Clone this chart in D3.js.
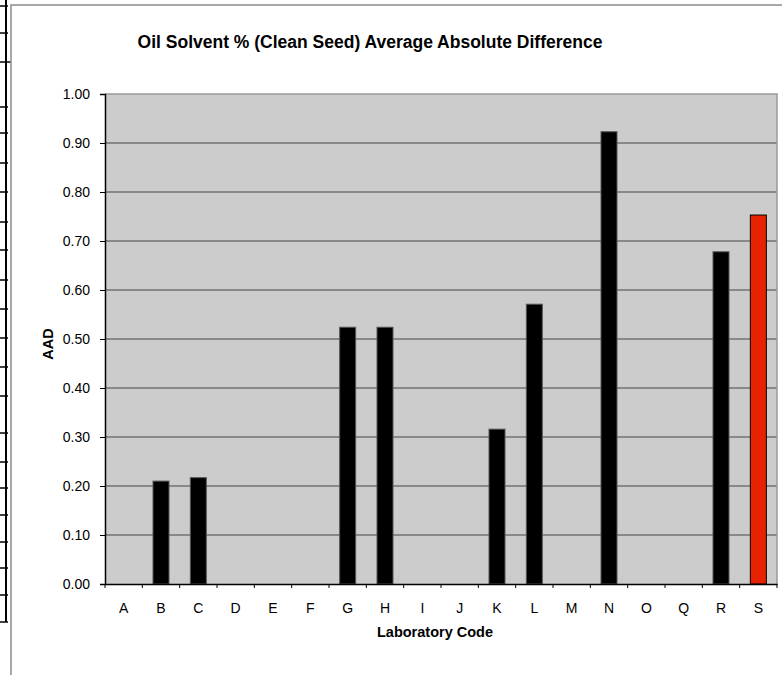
<!DOCTYPE html>
<html><head><meta charset="utf-8">
<script src="https://cdn.jsdelivr.net/npm/d3@7"></script>
<style>body{margin:0;background:#fff;} svg{display:block;font-family:"Liberation Sans",Arial,sans-serif;}</style>
</head><body>
<svg id="c" width="782" height="675"></svg>
<script>
const categories = ["A","B","C","D","E","F","G","H","I","J","K","L","M","N","O","Q","R","S"];
const values = [0, 0.210, 0.217, 0, 0, 0, 0.524, 0.524, 0, 0, 0.316, 0.571, 0, 0.923, 0, 0, 0.678, 0.753];
const highlight = ["S"];
const yTicks = [0,0.1,0.2,0.3,0.4,0.5,0.6,0.7,0.8,0.9,1.0];
const title = "Oil Solvent % (Clean Seed) Average Absolute Difference";
const xTitle = "Laboratory Code";
const yTitle = "AAD";
const sideTicks = [6,33,62,107,133,163,192,222,250,280,309,338,367,396,433,462,488,515,542,568,595,622];

const svg = d3.select("#c");
const L = 105, R = 777, T = 94, B = 584;

// decorative left table-like column
svg.append("line").attr("x1",6).attr("x2",6).attr("y1",0).attr("y2",622).attr("stroke","#000").attr("stroke-width",2);
svg.selectAll("line.st").data(sideTicks).enter().append("line").attr("class","st")
  .attr("x1",0).attr("x2",d=>d===62?11:8).attr("y1",d=>d).attr("y2",d=>d).attr("stroke","#000").attr("stroke-width",1.5);
// chart area border
svg.append("path").attr("d","M11,675 L11,5 L782,5").attr("fill","none").attr("stroke","#8c8c8c").attr("stroke-width",1.5);

const x = d3.scaleBand().domain(categories).range([L,R]);
const y = d3.scaleLinear().domain([0,1]).range([B,T]);

svg.append("rect").attr("x",L).attr("y",T).attr("width",R-L).attr("height",B-T).attr("fill","#cccccc");
// gridlines
svg.selectAll("line.g").data(yTicks.filter(d=>d>0 && d<1)).enter().append("line").attr("class","g")
  .attr("x1",L).attr("x2",R).attr("y1",d=>y(d)).attr("y2",d=>y(d)).attr("stroke","#444").attr("stroke-width",1);
// top/right border
svg.append("path").attr("d",`M${L},${T} L${R},${T} L${R},${B}`).attr("fill","none").attr("stroke","#999").attr("stroke-width",1.5);

// bars
const bw = 16;
svg.selectAll("rect.bar").data(categories.map((c,i)=>({c,v:values[i]})).filter(d=>d.v>0)).enter().append("rect")
  .attr("class","bar")
  .attr("x",d=>x(d.c)+x.bandwidth()/2-bw/2).attr("width",bw)
  .attr("y",d=>y(d.v)).attr("height",d=>B-y(d.v))
  .attr("fill",d=>highlight.includes(d.c)?"#e62200":"#000")
  .attr("stroke",d=>highlight.includes(d.c)?"#000":"#555").attr("stroke-width",1);

// y axis
const ya = svg.append("g").attr("transform",`translate(${L},0)`)
  .call(d3.axisLeft(y).tickValues(yTicks).tickFormat(d3.format(".2f")).tickSize(5).tickPadding(10));
ya.select(".domain").attr("stroke","#000").attr("stroke-width",1.5);
ya.selectAll(".tick line").attr("stroke","#000");
ya.selectAll("text").attr("font-size",14).attr("fill","#000").attr("font-family","Liberation Sans, Arial, sans-serif");

// x axis
const xa = svg.append("g").attr("transform",`translate(0,${B})`)
  .call(d3.axisBottom(x).tickSize(0).tickPadding(19));
xa.select(".domain").attr("stroke","#000").attr("stroke-width",1.5);
xa.selectAll("text").attr("font-size",14).attr("fill","#000").attr("font-family","Liberation Sans, Arial, sans-serif");
// x ticks at band boundaries
const bounds = categories.map(c=>x(c)).concat([R]);
svg.selectAll("line.xt").data(bounds).enter().append("line").attr("class","xt")
  .attr("x1",d=>d).attr("x2",d=>d).attr("y1",B).attr("y2",B+4).attr("stroke","#000");

svg.append("text").attr("x",370).attr("y",48).attr("text-anchor","middle").attr("font-size",17.5).attr("font-weight","bold").text(title);
svg.append("text").attr("x",435).attr("y",637).attr("text-anchor","middle").attr("font-size",14.5).attr("font-weight","bold").text(xTitle);
svg.append("text").attr("transform","translate(53,344) rotate(-90)").attr("text-anchor","middle").attr("font-size",14.5).attr("font-weight","bold").text(yTitle);
</script>
</body></html>
